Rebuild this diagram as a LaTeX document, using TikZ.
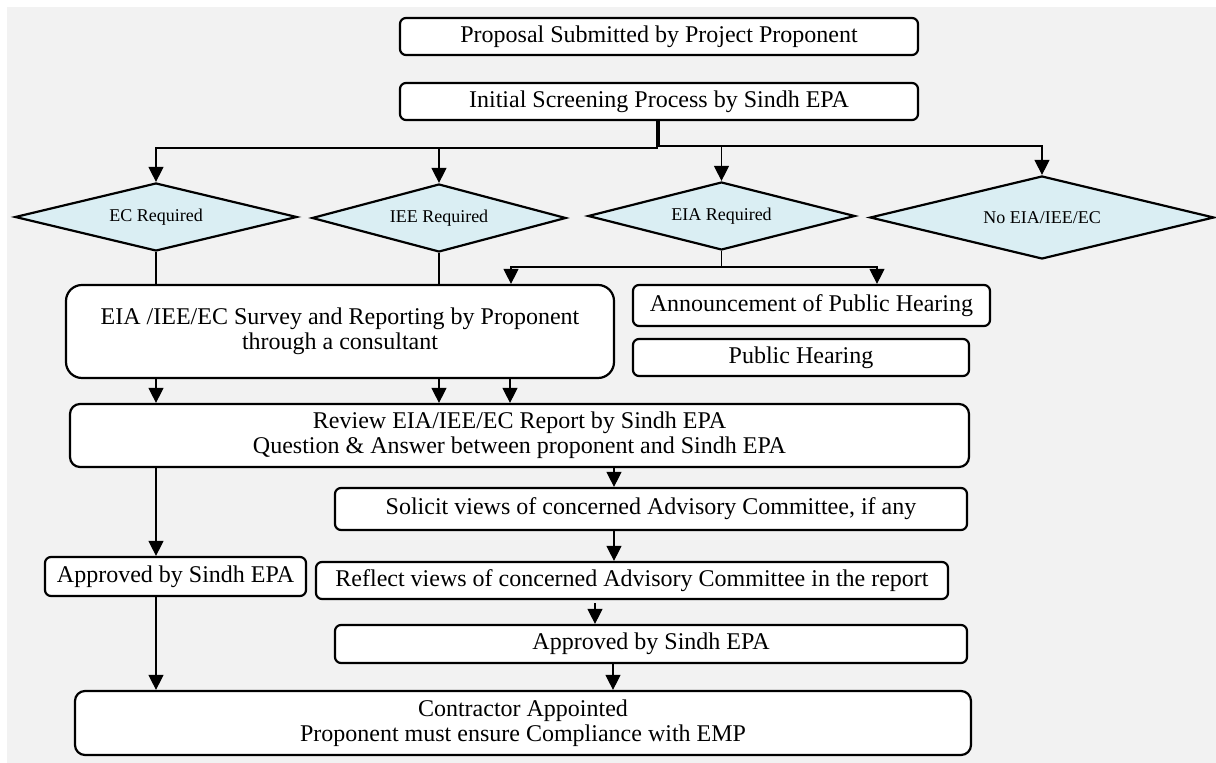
\documentclass[tikz,border=0pt]{standalone}
\usepackage{fontspec}
\setmainfont{Liberation Serif}
\usetikzlibrary{arrows.meta,shapes.geometric}
\definecolor{bgGray}{HTML}{F2F2F2}
\definecolor{choiceBlue}{HTML}{DAEEF3}

\begin{document}
\begin{tikzpicture}[x=0.5pt, y=-0.5pt,
        stepbox/.style={draw, line width=1.1pt, fill=white, rounded corners=3pt, align=center, inner sep=0pt, font=\fontsize{12}{12.5}\selectfont},
        choice/.style={diamond, draw, line width=1.1pt, fill=choiceBlue, aspect=4, inner sep=0pt, font=\fontsize{9}{10}\selectfont},
        flow/.style={line width=0.6pt, -{Triangle[length=7.5pt,width=7.5pt]}},
        link/.style={line width=0.6pt}]
        \useasboundingbox (0,0) rectangle (1216,763);
        \fill[bgGray] (7,7) rectangle (1216,763);

        % Nodes
        \node[stepbox, minimum width=259pt, minimum height=18.5pt] (prop) at (659,36.5) {Proposal Submitted by Project Proponent};
        \node[stepbox, minimum width=259pt, minimum height=18.5pt] (screen) at (659,101.5) {Initial Screening Process by Sindh EPA};
        \node[choice, minimum width=141pt, minimum height=34pt] (ec) at (156,217) {EC Required};
        \node[choice, minimum width=127pt, minimum height=34pt] (iee) at (439,218) {IEE Required};
        \node[choice, minimum width=133.5pt, minimum height=34pt] (eia) at (721.5,216) {EIA Required};
        \node[choice, minimum width=172pt, minimum height=41.5pt] (noeia) at (1042,217.5) {No EIA/IEE/EC};
        \node[stepbox, rounded corners=8pt, minimum width=274pt, minimum height=46.5pt] (survey) at (340,331.5) {EIA /IEE/EC Survey and Reporting by Proponent\\through a consultant};
        \node[stepbox, minimum width=178.5pt, minimum height=20.5pt] (announce) at (811.5,305.5) {Announcement of Public Hearing};
        \node[stepbox, minimum width=168pt, minimum height=18.5pt] (hearing) at (801,357.5) {Public Hearing};
        \node[stepbox, rounded corners=5pt, minimum width=449.5pt, minimum height=31.5pt] (review) at (519.5,435.5) {Review EIA/IEE/EC Report by Sindh EPA\\Question \& Answer between proponent and Sindh EPA};
        \node[stepbox, minimum width=316pt, minimum height=21pt] (solicit) at (651,509) {Solicit views of concerned Advisory Committee, if any};
        \node[stepbox, minimum width=316pt, minimum height=18.5pt] (reflect) at (632,580.5) {Reflect views of concerned Advisory Committee in the report};
        \node[stepbox, minimum width=130.5pt, minimum height=19.5pt] (apprA) at (175.5,576.5) {Approved by Sindh EPA};
        \node[stepbox, minimum width=316pt, minimum height=19pt] (apprB) at (651,644) {Approved by Sindh EPA};
        \node[stepbox, rounded corners=5pt, minimum width=448pt, minimum height=32pt] (contract) at (523,723) {Contractor Appointed\\Proponent must ensure Compliance with EMP};

        % Screening branches
        \draw[flow] ([xshift=-1pt]screen.south) -- ++(0,27) -| (ec.north);
        \draw[flow] ([xshift=-1pt]screen.south) -- ++(0,27) -| (iee.north);
        \draw[flow] (screen.south) -- ++(0,25) -| (eia.north);
        \draw[flow] (screen.south) -- ++(0,25) -| (noeia.north);

        % Diamonds to survey / hearing
        \draw[link] (ec.south) -- (ec.south |- survey.north);
        \draw[link] (iee.south) -- (iee.south |- survey.north);
        \draw[flow] (eia.south) -- ++(0,16) -| ([xshift=85.5pt]survey.north);
        \draw[flow] (eia.south) -- ++(0,16) -| ([xshift=32.75pt]announce.north);

        % Survey to review
        \draw[flow] (ec.south |- survey.south) -- (ec.south |- review.north);
        \draw[flow] (iee.south |- survey.south) -- (iee.south |- review.north);
        \draw[flow] ([xshift=85pt]survey.south) -- ([xshift=85pt]survey.south |- review.north);

        % EIA chain
        \draw[flow] ([xshift=-18.5pt]solicit.north |- review.south) -- ([xshift=-18.5pt]solicit.north);
        \draw[flow] ([xshift=-18.5pt]solicit.south) -- ([xshift=-18.5pt]solicit.south |- reflect.north);
        \draw[flow, shorten <=1.5pt] ([xshift=-28pt]apprB.north |- reflect.south) -- ([xshift=-28pt]apprB.north);
        \draw[flow] ([xshift=-19pt]apprB.south) -- ([xshift=-19pt]apprB.south |- contract.north);

        % EC / IEE track
        \draw[flow] (ec.south |- review.south) -- (ec.south |- apprA.north);
        \draw[flow] (ec.south |- apprA.south) -- (ec.south |- contract.north);
\end{tikzpicture}
\end{document}
